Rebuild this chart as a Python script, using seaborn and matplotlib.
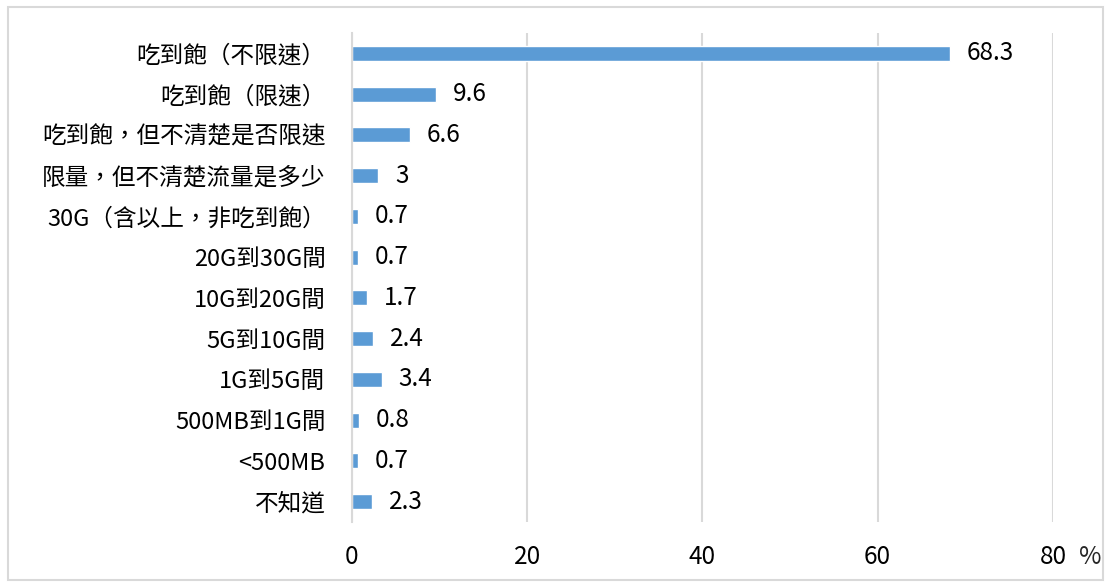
import matplotlib
matplotlib.use("Agg")
import matplotlib.pyplot as plt
import matplotlib.transforms as mtransforms
import seaborn as sns
import pandas as pd
from matplotlib.patches import Rectangle

categories = [
    "吃到飽（不限速）",
    "吃到飽（限速）",
    "吃到飽，但不清楚是否限速",
    "限量，但不清楚流量是多少",
    "30G（含以上，非吃到飽）",
    "20G到30G間",
    "10G到20G間",
    "5G到10G間",
    "1G到5G間",
    "500MB到1G間",
    "<500MB",
    "不知道",
]
values = [68.3, 9.6, 6.6, 3, 0.7, 0.7, 1.7, 2.4, 3.4, 0.8, 0.7, 2.3]
x_ticks = [0, 20, 40, 60, 80]

sns.set_style("white")
plt.rcParams["font.family"] = ["Noto Sans CJK TC", "DejaVu Sans"]
plt.rcParams["font.weight"] = "medium"

df = pd.DataFrame({"category": categories, "value": values})

fig = plt.figure(figsize=(11.1, 5.83), dpi=100)
ax = fig.add_axes([0.317, 0.1046, 0.6316, 0.8388])

sns.barplot(data=df, x="value", y="category", orient="h", color="#5B9BD5",
            saturation=1, width=0.37, ax=ax)

texts = ax.bar_label(ax.containers[0], labels=[f"{v:g}" for v in values],
                     padding=12, fontsize=17.5, color="black")
# nudge value labels slightly below the bar centre, as in the original
shift = mtransforms.ScaledTranslation(0, -2.5 / 100, fig.dpi_scale_trans)
for t in texts:
    t.set_transform(t.get_transform() + shift)

ax.set_xlim(0, 80)
ax.set_xticks(x_ticks)
ax.grid(axis="x", color="#d9d9d9", linewidth=1.5)
ax.set_axisbelow(True)
ax.set_xlabel("")
ax.set_ylabel("")
for side in ["top", "right", "bottom"]:
    ax.spines[side].set_visible(False)
ax.spines["left"].set_color("#d9d9d9")
ax.spines["left"].set_linewidth(1.5)
ax.tick_params(axis="x", length=0, pad=16, labelsize=17.5, labelcolor="black")
ax.tick_params(axis="y", length=0, pad=19, labelsize=17, labelcolor="black")

fig.text(1090 / 1110, 1 - 557 / 583, "%", fontsize=17.5, ha="center", va="center")

fig.patches.append(Rectangle((8 / 1110, 3 / 583), 1095 / 1110, 573 / 583,
                             transform=fig.transFigure, fill=False,
                             edgecolor="#d9d9d9", linewidth=1.5))

fig.savefig("out.png", dpi=100)
